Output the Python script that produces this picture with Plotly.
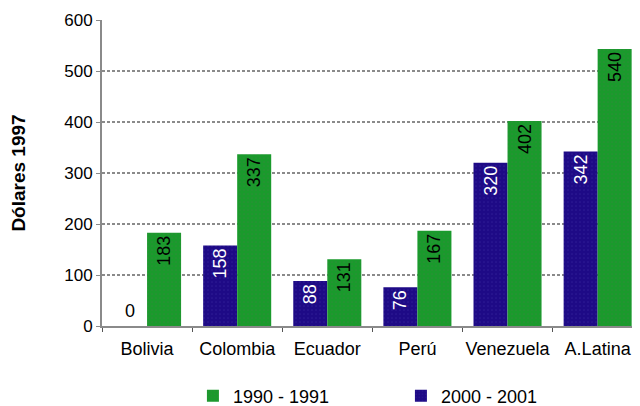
import plotly.graph_objects as go

categories = ["Bolivia", "Colombia", "Ecuador", "Perú", "Venezuela", "A.Latina"]
values_2000 = [0, 158, 88, 76, 320, 342]
values_1990 = [183, 337, 131, 187, 402, 543]
labels_2000 = ["0", "158", "88", "76", "320", "342"]
labels_1990 = ["183", "337", "131", "167", "402", "540"]
y_ticks = [0, 100, 200, 300, 400, 500, 600]

BLUE = "#1e0a86"
GREEN = "#1a9a2c"
GRID = "#8a8a8a"
FONT = "Liberation Sans, Arial, sans-serif"

fig = go.Figure()
fig.add_trace(go.Bar(
    x=categories, y=values_2000, name="2000 - 2001",
    marker=dict(color=BLUE, line=dict(width=0),
                pattern=dict(shape=".", fgcolor="#3a2aa0", size=4, solidity=0.15)),
    text=[t if v != 0 else "" for t, v in zip(labels_2000, values_2000)],
    textangle=-90, textposition="inside", insidetextanchor="end",
    insidetextfont=dict(color="white", size=18, family=FONT),
))
fig.add_trace(go.Bar(
    x=categories, y=values_1990, name="1990 - 1991",
    marker=dict(color=GREEN, line=dict(width=0),
                pattern=dict(shape=".", fgcolor="#3f7f44", size=4, solidity=0.15)),
    text=labels_1990, textangle=-90, textposition="inside",
    insidetextanchor="end",
    insidetextfont=dict(color="black", size=18, family=FONT),
))

# zero-valued bars: upright label just above the axis
for cat, v, t in zip(categories, values_2000, labels_2000):
    if v == 0:
        fig.add_annotation(x=cat, y=v, text=t, showarrow=False, xshift=-17,
                           yanchor="bottom", yshift=3,
                           font=dict(size=18, color="black", family=FONT))

fig.update_layout(
    width=640, height=406,
    margin=dict(l=94, r=8, t=12, b=88, autoexpand=False),
    paper_bgcolor="white", plot_bgcolor="white",
    barmode="group", bargap=0.245, bargroupgap=0,
    font=dict(family=FONT, size=17, color="black"),
    showlegend=True,
    legend=dict(orientation="h", x=0.169, xanchor="left", y=-0.229, yanchor="middle",
                traceorder="reversed", font=dict(size=18),
                entrywidth=163, entrywidthmode="pixels"),
    xaxis=dict(showgrid=False, ticks="outside", tickson="boundaries", ticklen=4,
               tickcolor="#555", showline=True, linecolor=GRID, linewidth=2,
               tickfont=dict(size=18), tickangle=0, ticklabelstandoff=5,
               range=[-0.5, 5.47]),
    yaxis=dict(range=[0, 600], tickvals=y_ticks, showgrid=True, gridcolor=GRID,
               griddash="3px,2px", gridwidth=2, zeroline=False, showline=True,
               linecolor=GRID, linewidth=2, ticks="outside", ticklen=4,
               tickcolor=GRID, tickfont=dict(size=17),
               title=dict(text="<b>Dólares 1997</b>", font=dict(size=19), standoff=38)),
)

fig.write_html("out.html")
